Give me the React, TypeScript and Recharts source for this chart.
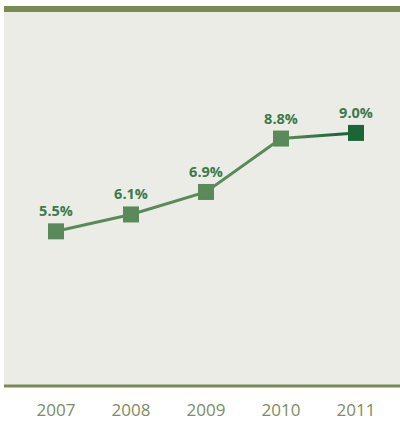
import React from 'react';
import { LineChart, Line, XAxis, YAxis, CartesianGrid, LabelList } from 'recharts';

const years = ['2007', '2008', '2009', '2010', '2011'];
const values = [5.5, 6.1, 6.9, 8.8, 9.0];

const data = years.map((y, i) => ({ year: y, value: values[i] }));

const SquareDot = (props: any) => {
  const { cx, cy, index } = props;
  if (cx == null || cy == null) return null;
  const fill = index === values.length - 1 ? '#1b6633' : '#5a8a5a';
  return <rect key={`d${index}`} x={cx - 8} y={cy - 8} width={16} height={16} fill={fill} />;
};

export default function App() {
  return (
    <div style={{ position: 'absolute', left: 0, top: 0, width: 400, height: 421, background: '#fff' }}>
      <div style={{ position: 'absolute', left: 4, top: 6, width: 396, height: 6, background: '#798b52' }} />
      <div style={{ position: 'absolute', left: 0, top: 0 }}>
        <LineChart width={400} height={421} data={data} margin={{ top: 12, right: 0, bottom: 5, left: 4 }}>
          <defs>
            <linearGradient id="lg" gradientUnits="userSpaceOnUse" x1="285" y1="0" x2="340" y2="0">
              <stop offset="0" stopColor="#5a8a5a" />
              <stop offset="1" stopColor="#1b6633" />
            </linearGradient>
          </defs>
          <CartesianGrid horizontal={false} vertical={false} fill="#ecece7" />
          <XAxis
            dataKey="year"
            padding={{ left: 52, right: 44 }}
            axisLine={{ stroke: '#798b52', strokeWidth: 3 }}
            tickLine={false}
            tickMargin={12}
            tick={{ fill: '#7d8c5f', fontSize: 17, fontFamily: 'Open Sans' }}
          />
          <YAxis hide domain={[0, 13.3]} />
          <Line
            dataKey="value"
            stroke="url(#lg)"
            strokeWidth={3}
            dot={<SquareDot />}
            activeDot={false}
            isAnimationActive={false}
          >
            <LabelList
              dataKey="value"
              position="top"
              offset={15}
              formatter={(v: any) => `${Number(v).toFixed(1)}%`}
              fill="#3b7a4a"
              fontSize={14.5}
              fontWeight="bold"
              fontFamily="Open Sans"
            />
          </Line>
        </LineChart>
      </div>
    </div>
  );
}
